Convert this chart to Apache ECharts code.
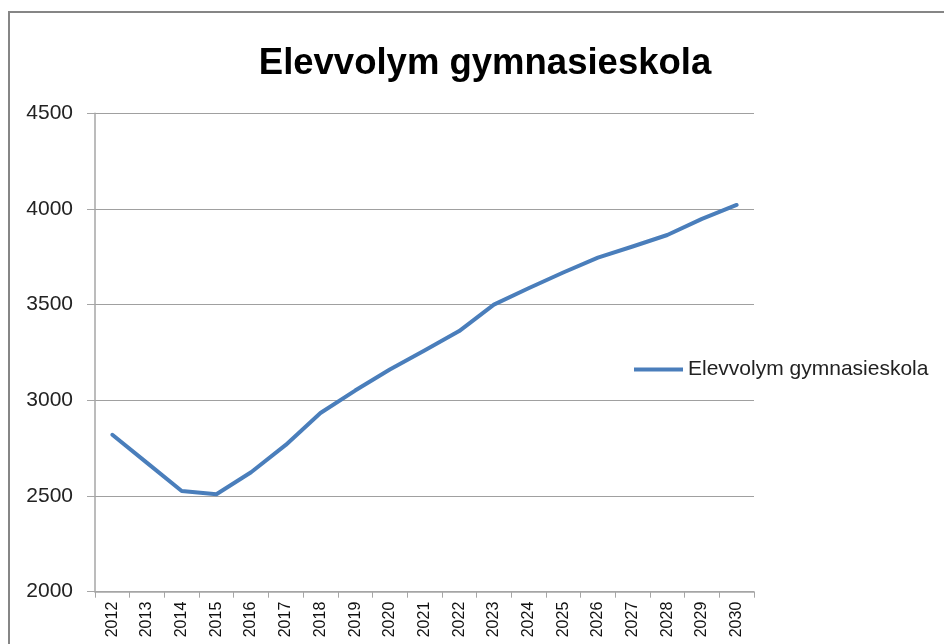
<!DOCTYPE html>
<html>
<head>
<meta charset="utf-8">
<script src="https://cdn.jsdelivr.net/npm/echarts@6/dist/echarts.min.js"></script>
<style>
html,body{margin:0;padding:0;background:#fff;}
#chart{width:944px;height:644px;}
</style>
</head>
<body>
<div id="chart"></div>
<script>
const titleText = "Elevvolym gymnasieskola";
const seriesName = "Elevvolym gymnasieskola";
const years = ["2012","2013","2014","2015","2016","2017","2018","2019","2020","2021","2022","2023","2024","2025","2026","2027","2028","2029","2030"];
const students = [2820,2673,2526,2509,2624,2767,2934,3051,3161,3260,3362,3500,3586,3668,3746,3804,3864,3948,4021];
const yMin = 2000, yMax = 4500, yStep = 500;

const chart = echarts.init(document.getElementById('chart'), null, {renderer:'canvas'});
const font = "'Liberation Sans', Arial, sans-serif";
chart.setOption({
  animation:false,
  backgroundColor:'#ffffff',
  textStyle:{fontFamily:font},
  title:{
    text:titleText, left:480, top:40, textAlign:'center',
    textStyle:{fontFamily:font, fontSize:36.5, fontWeight:'bold', color:'#000'}
  },
  legend:{
    data:[seriesName], left:629, top:354, itemWidth:49, itemHeight:4,
    icon:'rect',
    textStyle:{fontFamily:font, fontSize:21, color:'#222'},
  },
  grid:{left:95, right:190, top:113.3, bottom:52.3, containLabel:false},
  xAxis:{
    type:'category', data:years, boundaryGap:true,
    axisLine:{show:true, lineStyle:{color:'#a6a6a6', width:1.5}},
    axisTick:{show:true, alignWithLabel:false, length:6, lineStyle:{color:'#a6a6a6'}},
    axisLabel:{rotate:90, margin:10, fontSize:16, color:'#111', interval:0, fontFamily:font},
    splitLine:{show:false}
  },
  yAxis:{
    type:'value', min:yMin, max:yMax, interval:yStep,
    axisLine:{show:true, lineStyle:{color:'#a6a6a6', width:1.5}},
    axisTick:{show:true, length:8, lineStyle:{color:'#a6a6a6'}},
    axisLabel:{margin:22, fontSize:21, color:'#222', fontFamily:font, formatter:function(v){return String(v);}},
    splitLine:{show:true, lineStyle:{color:'#a0a0a0', width:1.2}}
  },
  series:[{
    name:seriesName, type:'line', data:students, symbol:'none',
    lineStyle:{color:'#4a7ebb', width:4, cap:'round', join:'round'},
    itemStyle:{color:'#4a7ebb'}
  }],
  graphic:[{
    type:'rect', shape:{x:9, y:12, width:1000, height:1000},
    style:{fill:'none', stroke:'#868686', lineWidth:2}, silent:true
  }]
});
</script>
</body>
</html>
